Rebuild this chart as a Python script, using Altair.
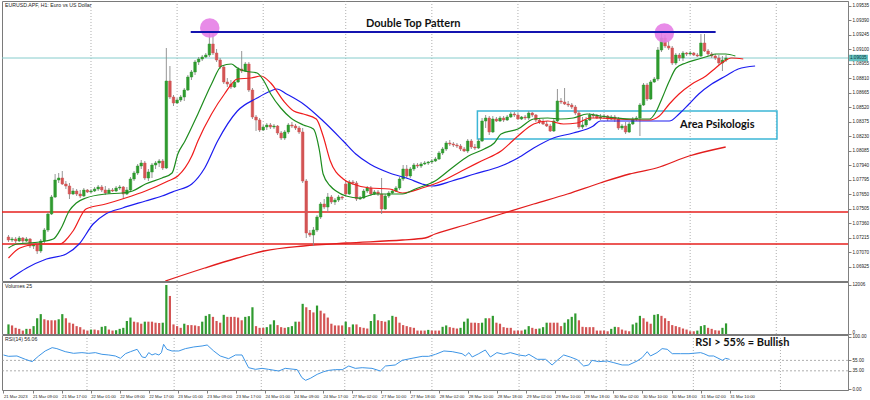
import altair as alt
import pandas as pd

# ---------------- data ----------------
opens = [1.0722,1.0719,1.0720,1.0718,1.0721,1.0718,1.0720,1.0713,1.0714,1.0708,
1.0718,1.0729,1.0745,1.0762,1.0779,1.0781,1.0775,1.0773,1.0765,1.0768,
1.0765,1.0763,1.0769,1.0767,1.0768,1.0770,1.0772,1.0769,1.0766,1.0769,
1.0768,1.0771,1.0772,1.0765,1.0769,1.0780,1.0786,1.0793,1.0796,1.0781,
1.0787,1.0794,1.0796,1.0798,1.0791,1.0878,1.0862,1.0856,1.0859,1.0862,
1.0869,1.0882,1.0887,1.0897,1.0900,1.0902,1.0904,1.0915,1.0906,1.0899,
1.0892,1.0877,1.0875,1.0872,1.0877,1.0890,1.0888,1.0895,1.0869,1.0842,
1.0839,1.0829,1.0832,1.0834,1.0832,1.0833,1.0826,1.0821,1.0827,1.0834,
1.0833,1.0831,1.0827,1.0778,1.0726,1.0724,1.0729,1.0742,1.0755,1.0752,
1.0762,1.0757,1.0759,1.0762,1.0775,1.0765,1.0777,1.0776,1.0760,1.0761,
1.0768,1.0771,1.0765,1.0767,1.0765,1.0750,1.0763,1.0766,1.0768,1.0771,
1.0780,1.0790,1.0783,1.0790,1.0794,1.0793,1.0795,1.0796,1.0797,1.0798,
1.0800,1.0806,1.0810,1.0816,1.0815,1.0814,1.0813,1.0810,1.0808,1.0818,
1.0812,1.0811,1.0818,1.0838,1.0841,1.0827,1.0840,1.0838,1.0841,1.0839,
1.0842,1.0845,1.0844,1.0840,1.0842,1.0841,1.0846,1.0844,1.0839,1.0837,
1.0835,1.0833,1.0828,1.0838,1.0858,1.0857,1.0855,1.0854,1.0852,1.0846,
1.0832,1.0834,1.0839,1.0844,1.0843,1.0841,1.0842,1.0843,1.0840,1.0842,
1.0840,1.0831,1.0833,1.0827,1.0835,1.0840,1.0841,1.0854,1.0874,1.0860,
1.0877,1.0880,1.0909,1.0921,1.0913,1.0911,1.0896,1.0904,1.0901,1.0906,
1.0905,1.0906,1.0904,1.0903,1.0916,1.0908,1.0905,1.0903,1.0901,1.0896,
1.0899]
closes = [1.0719,1.0720,1.0718,1.0721,1.0718,1.0720,1.0713,1.0714,1.0708,1.0718,
1.0729,1.0745,1.0762,1.0779,1.0781,1.0775,1.0773,1.0765,1.0768,1.0765,
1.0763,1.0769,1.0767,1.0768,1.0770,1.0772,1.0769,1.0766,1.0769,1.0768,
1.0771,1.0772,1.0765,1.0769,1.0780,1.0786,1.0793,1.0796,1.0781,1.0787,
1.0794,1.0796,1.0798,1.0791,1.0878,1.0862,1.0856,1.0859,1.0862,1.0869,
1.0882,1.0887,1.0897,1.0900,1.0902,1.0904,1.0915,1.0906,1.0899,1.0892,
1.0877,1.0875,1.0872,1.0877,1.0890,1.0888,1.0895,1.0869,1.0842,1.0839,
1.0829,1.0832,1.0834,1.0832,1.0833,1.0826,1.0821,1.0827,1.0834,1.0833,
1.0831,1.0827,1.0778,1.0726,1.0724,1.0729,1.0742,1.0755,1.0752,1.0762,
1.0757,1.0759,1.0762,1.0761,1.0765,1.0777,1.0776,1.0760,1.0761,1.0768,
1.0771,1.0765,1.0767,1.0765,1.0750,1.0763,1.0766,1.0768,1.0771,1.0780,
1.0790,1.0783,1.0790,1.0794,1.0793,1.0795,1.0796,1.0797,1.0798,1.0800,
1.0806,1.0810,1.0816,1.0815,1.0814,1.0813,1.0810,1.0808,1.0818,1.0812,
1.0811,1.0818,1.0838,1.0841,1.0827,1.0840,1.0838,1.0841,1.0839,1.0842,
1.0845,1.0844,1.0840,1.0842,1.0841,1.0846,1.0844,1.0839,1.0837,1.0835,
1.0833,1.0828,1.0838,1.0858,1.0857,1.0855,1.0854,1.0852,1.0846,1.0832,
1.0834,1.0839,1.0844,1.0843,1.0841,1.0842,1.0843,1.0840,1.0842,1.0840,
1.0831,1.0833,1.0827,1.0835,1.0840,1.0841,1.0854,1.0874,1.0860,1.0877,
1.0880,1.0909,1.0921,1.0913,1.0911,1.0896,1.0904,1.0901,1.0906,1.0905,
1.0906,1.0904,1.0903,1.0916,1.0908,1.0905,1.0903,1.0901,1.0896,1.0899,
1.0901]
highs = [1.0724,1.0722,1.0722,1.0723,1.0722,1.0722,1.0721,1.0717,1.0716,1.0720,
1.0731,1.0747,1.0764,1.0785,1.0786,1.0788,1.0778,1.0776,1.0771,1.0770,
1.0769,1.0771,1.0770,1.0770,1.0772,1.0774,1.0774,1.0773,1.0771,1.0771,
1.0773,1.0774,1.0773,1.0772,1.0782,1.0788,1.0795,1.0799,1.0798,1.0790,
1.0796,1.0798,1.0800,1.0800,1.0911,1.0893,1.0864,1.0861,1.0864,1.0871,
1.0884,1.0889,1.0899,1.0902,1.0904,1.0906,1.0928,1.0928,1.0910,1.0901,
1.0894,1.0881,1.0879,1.0879,1.0892,1.0908,1.0897,1.0897,1.0871,1.0844,
1.0841,1.0834,1.0836,1.0836,1.0835,1.0834,1.0828,1.0829,1.0836,1.0837,
1.0835,1.0833,1.0831,1.0780,1.0729,1.0732,1.0744,1.0757,1.0760,1.0766,
1.0764,1.0761,1.0764,1.0763,1.0778,1.0779,1.0779,1.0778,1.0763,1.0770,
1.0773,1.0773,1.0769,1.0769,1.0781,1.0765,1.0768,1.0770,1.0773,1.0782,
1.0794,1.0794,1.0792,1.0796,1.0796,1.0797,1.0798,1.0798,1.0800,1.0802,
1.0808,1.0812,1.0818,1.0819,1.0817,1.0816,1.0815,1.0812,1.0820,1.0820,
1.0815,1.0820,1.0841,1.0844,1.0843,1.0843,1.0842,1.0843,1.0843,1.0844,
1.0847,1.0847,1.0846,1.0843,1.0844,1.0848,1.0847,1.0845,1.0841,1.0840,
1.0838,1.0835,1.0840,1.0870,1.0861,1.0871,1.0858,1.0856,1.0854,1.0848,
1.0842,1.0842,1.0846,1.0846,1.0845,1.0845,1.0845,1.0844,1.0844,1.0844,
1.0842,1.0835,1.0837,1.0837,1.0842,1.0843,1.0856,1.0876,1.0876,1.0879,
1.0882,1.0912,1.0927,1.0924,1.0918,1.0913,1.0906,1.0906,1.0908,1.0907,
1.0908,1.0907,1.0906,1.0925,1.0925,1.0910,1.0907,1.0905,1.0904,1.0903,
1.0904]
lows = [1.0717,1.0717,1.0716,1.0717,1.0716,1.0717,1.0711,1.0710,1.0705,1.0706,
1.0716,1.0727,1.0744,1.0761,1.0776,1.0774,1.0770,1.0760,1.0764,1.0763,
1.0761,1.0762,1.0766,1.0766,1.0767,1.0768,1.0767,1.0764,1.0765,1.0767,
1.0767,1.0769,1.0760,1.0764,1.0767,1.0778,1.0784,1.0790,1.0779,1.0778,
1.0781,1.0790,1.0792,1.0789,1.0790,1.0860,1.0853,1.0855,1.0857,1.0858,
1.0868,1.0879,1.0884,1.0894,1.0898,1.0901,1.0902,1.0904,1.0897,1.0890,
1.0875,1.0872,1.0870,1.0871,1.0876,1.0886,1.0887,1.0867,1.0840,1.0828,
1.0827,1.0828,1.0829,1.0830,1.0830,1.0824,1.0819,1.0819,1.0825,1.0831,
1.0829,1.0825,1.0776,1.0721,1.0722,1.0713,1.0727,1.0740,1.0750,1.0747,
1.0755,1.0754,1.0757,1.0759,1.0763,1.0764,1.0774,1.0758,1.0759,1.0760,
1.0766,1.0763,1.0764,1.0763,1.0745,1.0749,1.0761,1.0765,1.0767,1.0769,
1.0778,1.0781,1.0781,1.0788,1.0791,1.0791,1.0794,1.0794,1.0795,1.0797,
1.0799,1.0804,1.0808,1.0813,1.0812,1.0811,1.0808,1.0807,1.0806,1.0810,
1.0809,1.0810,1.0817,1.0831,1.0824,1.0826,1.0837,1.0837,1.0837,1.0838,
1.0841,1.0842,1.0839,1.0839,1.0839,1.0839,1.0842,1.0837,1.0835,1.0834,
1.0832,1.0827,1.0827,1.0837,1.0855,1.0854,1.0852,1.0850,1.0844,1.0830,
1.0830,1.0832,1.0838,1.0841,1.0840,1.0839,1.0840,1.0838,1.0839,1.0837,
1.0829,1.0829,1.0825,1.0826,1.0834,1.0838,1.0823,1.0853,1.0858,1.0859,
1.0876,1.0878,1.0907,1.0911,1.0909,1.0894,1.0894,1.0898,1.0898,1.0903,
1.0904,1.0903,1.0902,1.0902,1.0907,1.0903,1.0901,1.0899,1.0894,1.0888,
1.0897]
volumes = [2350,2100,1510,1260,840,1260,1260,1930,3860,4870,
3610,3360,3360,3360,3610,4870,3860,2770,2520,1930,
1680,1090,840,1090,1090,920,1760,1930,1090,840,
920,1260,1510,3190,4030,3020,2860,2520,3020,3020,
3020,2770,2690,2770,12006,9320,2350,1930,1510,2520,
2180,2180,2100,1930,3020,4450,4870,4200,3190,2770,
4700,4200,4200,4200,4030,3360,4200,4370,6550,1930,
1510,1510,1680,2350,3360,2180,1680,1510,1680,1930,
3020,3020,7390,6550,5880,5290,6970,5710,5040,4030,
2520,2100,2100,2100,3020,1680,2350,2350,1680,1510,
1340,3190,4870,3360,3190,3020,3360,4450,4200,2770,
2180,1930,1680,1510,840,840,840,1010,840,840,
840,1760,2100,1680,1510,1340,1510,3020,3780,2770,
2770,2690,2770,3860,3860,4450,2770,2520,1680,1510,
1510,840,840,840,1090,1930,1510,1260,1340,1680,
2770,2770,2770,2770,1930,2770,3610,4200,5040,3360,
1760,1680,1680,1680,840,840,840,670,1260,1760,
1680,1090,840,670,2350,2770,4450,3860,3020,2520,
4700,4870,4450,3860,3190,2180,1930,1680,1340,1090,
670,670,840,1930,2180,1510,1260,920,840,1510,
2600]

# Alligator lines and long moving average (bar position, price)
lips_bars = [0,2.3,8.7,12.5,14.7,16.9,18.9,21.6,27.1,31.8,34.6,38.2,42.8,45.6,47.2,
49.2,52.8,56.6,59.4,62.1,63.8,65.7,69.3,71.2,73.1,75.9,78.7,82.2,85.0,86.7,
87.7,89.7,91.3,94.1,97.9,102.3,106.2,109.8,113.4,118.9,123.6,128.2,132.6,135.4,137.3,
142.0,146.4,150.3,153.9,157.4,161.3,164.9,169.6,174.0,178.7,180.6,182.2,184.2,186.1,188.8,
192.4,195.2,197.1,199.9,202.6]
lips_prices = [1.0711,1.0715,1.0717,1.0720,1.0731,1.0748,1.0756,1.0761,1.0765,1.0766,
1.0768,1.0775,1.0781,1.0786,1.0805,1.0818,1.0845,1.0875,1.0893,1.0895,
1.0891,1.0888,1.0886,1.0878,1.0865,1.0851,1.0841,1.0834,1.0830,1.0808,
1.0785,1.0773,1.0768,1.0763,1.0761,1.0765,1.0765,1.0765,1.0770,1.0778,
1.0791,1.0803,1.0810,1.0816,1.0825,1.0830,1.0840,1.0841,1.0840,1.0841,
1.0845,1.0843,1.0841,1.0840,1.0840,1.0848,1.0861,1.0878,1.0891,1.0896,
1.0900,1.0903,1.0905,1.0905,1.0903]
teeth_bars = [0,3.2,8.7,14.2,18.0,21.6,27.1,32.6,38.2,44.5,47.2,51.1,52.8,56.6,60.2,
63.8,67.6,70.4,73.1,76.7,79.5,82.2,85.8,87.7,89.7,93.3,96.0,100.7,106.2,109.8,
115.3,120.8,126.3,131.8,137.3,142.0,146.4,150.3,154.7,158.5,162.1,164.9,169.6,178.7,181.4,
184.2,186.9,190.5,194.4,197.1,198.8,201.5,204.8]
teeth_prices = [1.0701,1.0711,1.0715,1.0715,1.0728,1.0750,1.0755,1.0761,1.0768,1.0778,
1.0783,1.0803,1.0818,1.0845,1.0865,1.0880,1.0881,1.0883,1.0876,1.0858,
1.0848,1.0845,1.0840,1.0823,1.0798,1.0780,1.0775,1.0771,1.0770,1.0766,
1.0771,1.0778,1.0788,1.0798,1.0808,1.0823,1.0835,1.0838,1.0835,1.0836,
1.0841,1.0841,1.0840,1.0839,1.0843,1.0855,1.0865,1.0875,1.0883,1.0891,
1.0896,1.0901,1.0900]
jaw_bars = [0.4,5.1,10.6,16.1,19.7,23.6,27.1,31.8,38.2,42.8,46.4,51.1,54.7,58.3,63.8,
69.3,73.1,74.8,77.5,82.2,87.7,93.3,96.8,100.7,106.2,111.7,115.3,118.0,123.6,129.9,
137.3,142.0,146.4,151.9,157.4,163.0,164.9,170.4,178.7,184.2,186.9,189.7,192.4,196.0,199.9,
203.4,208.1]
jaw_prices = [1.0680,1.0691,1.0700,1.0705,1.0715,1.0735,1.0745,1.0751,1.0758,1.0763,
1.0768,1.0775,1.0791,1.0818,1.0848,1.0861,1.0868,1.0870,1.0865,1.0855,
1.0838,1.0818,1.0805,1.0795,1.0786,1.0780,1.0775,1.0773,1.0778,1.0785,
1.0793,1.0801,1.0811,1.0821,1.0826,1.0833,1.0838,1.0838,1.0838,1.0838,
1.0845,1.0855,1.0865,1.0875,1.0883,1.0890,1.0893]
ma_bars = [43.7,54.7,63.8,71.2,82.2,94.1,109.8,116.1,118.9,128.2,137.3,146.4,155.8,164.9,173.1,180.6,189.7,199.9]
ma_prices = [1.0678,1.0691,1.0701,1.0708,1.0713,1.0716,1.0719,1.0721,1.0725,1.0735,1.0745,1.0755,1.0765,1.0776,1.0785,1.0791,1.0803,1.0812]

rsi_bars = [0,1.4,3.7,6.0,7.9,9.7,11.5,13.4,14.7,17.0,
19.3,21.6,23.5,25.3,27.1,29.0,30.8,32.2,33.6,35.0,
36.8,38.2,39.1,40.0,40.9,41.8,42.8,43.5,44.1,45.0,
46.4,48.3,50.1,52.4,54.7,56.1,57.9,59.7,62.0,63.9,
65.7,67.5,69.4,71.2,73.0,75.8,77.6,80.9,82.2,83.2,
84.5,86.4,88.2,89.6,91.4,93.3,95.1,96.9,98.8,101.5,
103.8,105.2,107.9,109.8,112.5,115.3,117.1,119.0,121.3,123.6,
126.3,127.2,128.2,129.1,130.9,132.7,134.1,135.9,137.8,139.6,
141.9,143.8,144.7,147.0,149.3,151.1,152.5,154.3,156.1,158.0,
159.8,161.2,162.1,163.9,166.3,168.1,170.4,172.2,174.5,175.9,
177.3,178.2,180.0,181.4,182.8,184.2,186.5,188.8,192.0,192.9,
194.3,195.6,198.0,198.9,200.0]
rsi_values = [65.4,62.8,63.5,57.1,52.6,63.5,73.1,79.5,77.6,71.8,
68.6,69.9,68.6,69.9,66.7,65.4,63.5,59.0,67.9,71.8,
76.3,61.5,60.3,69.9,65.4,67.9,65.4,69.9,85.9,76.3,
73.1,73.1,77.6,80.8,82.7,84.6,73.1,63.5,58.3,65.4,
65.4,41.0,37.8,39.7,37.8,34.6,39.7,37.2,21.8,16.7,
20.5,28.2,33.3,35.9,37.2,37.2,44.2,39.7,41.0,39.7,
34.6,44.2,46.2,55.1,59.0,62.8,62.8,66.7,73.1,71.8,
67.9,63.5,69.9,61.5,67.9,75.0,61.5,69.9,66.7,69.9,
65.4,63.5,66.7,57.1,57.1,46.2,55.1,65.4,61.5,56.4,
44.2,46.2,55.1,52.6,53.8,50.6,46.2,46.2,53.8,60.3,
71.8,63.5,69.9,77.6,76.3,67.9,67.9,67.9,69.9,67.9,
63.5,63.5,55.1,59.0,57.0]

time_labels = ['21 Mar 2023','21 Mar 09:00','21 Mar 17:00','22 Mar 01:00','22 Mar 09:00',
'22 Mar 17:00','23 Mar 01:00','23 Mar 09:00','23 Mar 17:00','24 Mar 01:00','24 Mar 09:00',
'24 Mar 17:00','27 Mar 02:00','27 Mar 10:00','27 Mar 18:00','28 Mar 02:00','28 Mar 10:00',
'28 Mar 18:00','29 Mar 02:00','29 Mar 10:00','29 Mar 18:00','30 Mar 02:00','30 Mar 10:00',
'30 Mar 18:00','31 Mar 02:00','31 Mar 10:00']
price_ticks = [1.09535,1.09390,1.09245,1.09100,1.08955,1.08810,1.08665,1.08520,1.08375,1.08230,
1.08085,1.07940,1.07795,1.07650,1.07505,1.07360,1.07215,1.07070,1.06925]
day_bars = [23, 47, 71, 94, 118, 142, 166, 190, 214]
support_levels = [1.0747, 1.0715]
current_price = 1.0901
current_label = "1.09035"
top_start, top_end, top_price = 50.8, 197.1, 1.0927
peak_bars = [56.1, 182.8]
peak_prices = [1.0931, 1.0926]
zone_start, zone_end, zone_low, zone_high = 130.7, 214.2, 1.0820, 1.0848
rsi_levels = [55, 35]
rsi_ticks = [0, 35, 55, 100]
vol_ticks = [0, 12006]
chart_title = "EURUSD.APF, H1:  Euro vs US Dollar"
vol_title = "Volumes 25"
rsi_title = "RSI(14) 56.06"

# ---------------- frames ----------------
n = len(closes)
candles = pd.DataFrame({"bar": list(range(n)), "open": opens, "high": highs,
                        "low": lows, "close": closes})
candles["dir"] = ["up" if c >= o else "down" for o, c in zip(opens, closes)]
vol = pd.DataFrame({"bar": list(range(n)), "vol": volumes})
vol["dir"] = ["up" if i == 0 or v > volumes[i - 1] else "down" for i, v in enumerate(volumes)]

W = 846
LAB_FONT = "Liberation Sans, sans-serif"
ANN_FONT = "Lato"
X = alt.Scale(domain=[-0.41, 232.6], nice=False, zero=False)
PY = alt.Scale(domain=[1.0678, 1.0958], nice=False, zero=False)
VY = alt.Scale(domain=[0, 12740], nice=False, zero=False)
RY = alt.Scale(domain=[-1.9, 103.8], nice=False, zero=False)

def yaxis(values, fmt, baseline="middle"):
    return alt.Axis(orient="right", values=values, format=fmt, labelFontSize=4.6,
                    labelFont=LAB_FONT, labelColor="#222222", labelPadding=1,
                    tickSize=3, tickColor="#808080", domainColor="#808080",
                    labelBaseline=baseline,
                    labelOverlap=False, labelFlush=False, grid=False, title=None)

PAX = yaxis(price_ticks, ".5f")
VAX = yaxis(vol_ticks, "d", {"condition": {"test": "datum.value == 0", "value": "bottom"}, "value": "middle"})
RAX = yaxis(rsi_ticks, ".2f")
XAX = alt.Axis(values=list(range(0, 201, 8)),
               labelExpr="[" + ",".join("'" + t + "'" for t in time_labels) + "][round(datum.value / 8)]",
               labelAlign="left", labelFontSize=4.2, labelFont=LAB_FONT, labelColor="#222222",
               labelPadding=1, tickSize=3, tickColor="#808080", domain=False,
               labelOverlap=False, labelFlush=False, grid=False, title=None)

def xenc(field="bar", axis=None):
    return alt.X(f"{field}:Q", scale=X, axis=axis)

def py(field):
    return alt.Y(f"{field}:Q", scale=PY, axis=PAX)

def grid_layer(axis=None):
    return alt.Chart(pd.DataFrame({"bar": day_bars})).mark_rule(
        color="#9a9a9a", strokeDash=[1, 2], strokeWidth=0.8).encode(x=xenc(axis=axis))

def line_layer(bars, prices, color, width=1.2):
    df = pd.DataFrame({"bar": bars, "price": prices})
    return alt.Chart(df).mark_line(color=color, strokeWidth=width, clip=True,
                                   interpolate="monotone").encode(x=xenc(), y=py("price"))

cscale = alt.Scale(domain=["up", "down"], range=["#2f9a2f", "#d35454"])

wicks = alt.Chart(candles).mark_rule(color="#8a8a8a", strokeWidth=0.9).encode(
    x=xenc(), y=py("low"), y2="high:Q")
bodies = alt.Chart(candles).mark_bar(size=2.6, strokeWidth=0.5).encode(
    x=xenc(), y=py("open"), y2="close:Q",
    color=alt.Color("dir:N", scale=cscale, legend=None),
    stroke=alt.Stroke("dir:N", scale=cscale, legend=None))

supports = alt.Chart(pd.DataFrame({"price": support_levels})).mark_rule(
    color="#e6201e", strokeWidth=1.3).encode(y=py("price"))
cur_line = alt.Chart(pd.DataFrame({"price": [current_price]})).mark_rule(
    color="#86cccc", strokeWidth=1).encode(y=py("price"))
zone = alt.Chart(pd.DataFrame({"s": [zone_start], "e": [zone_end], "lo": [zone_low], "hi": [zone_high]})).mark_rect(
    fillOpacity=0, stroke="#3cb6d6", strokeWidth=1.5).encode(
    x=xenc("s"), x2="e:Q", y=py("lo"), y2="hi:Q")
circles = alt.Chart(pd.DataFrame({"bar": peak_bars, "price": peak_prices})).mark_circle(
    size=380, color="#e57ee5", opacity=0.9).encode(x=xenc(), y=py("price"))
top = alt.Chart(pd.DataFrame({"s": [top_start], "e": [top_end], "p": [top_price]})).mark_rule(
    color="#1414b0", strokeWidth=2).encode(x=xenc("s"), x2="e:Q", y=py("p"))

ann_dt = alt.Chart(pd.DataFrame({"bar": [112.8], "price": [1.0935], "t": ["Double Top Pattern"]})).mark_text(
    font=ANN_FONT, fontWeight="bold", fontSize=11, color="#111111", align="center",
    baseline="middle").encode(x=xenc(), y=py("price"), text="t:N")
ann_ap = alt.Chart(pd.DataFrame({"bar": [187.2], "price": [1.0834], "t": ["Area Psikologis"]})).mark_text(
    font=ANN_FONT, fontWeight="bold", fontSize=11, color="#111111", align="left",
    baseline="middle").encode(x=xenc(), y=py("price"), text="t:N")

title_txt = alt.Chart(pd.DataFrame({"t": [chart_title]})).mark_text(
    font=LAB_FONT, fontSize=5.2, color="#222222", align="left", baseline="top").encode(
    x=alt.value(3), y=alt.value(2), text="t:N")

cur_box = alt.Chart(pd.DataFrame({"price": [current_price]})).mark_tick(
    orient="horizontal", thickness=6.5, size=19, color="#66c2c2", opacity=1).encode(
    x=alt.value(856.5), y=py("price"))
cur_txt = alt.Chart(pd.DataFrame({"price": [current_price], "t": [current_label]})).mark_text(
    font=LAB_FONT, fontSize=4.6, color="#073838", align="left", baseline="middle").encode(
    x=alt.value(848), y=py("price"), text="t:N")

price = alt.layer(
    grid_layer(), supports, cur_line, line_layer(ma_bars, ma_prices, "#e21d1d", 1.3),
    zone, wicks, bodies,
    line_layer(jaw_bars, jaw_prices, "#1c1cf0", 1.2),
    line_layer(teeth_bars, teeth_prices, "#f01c1c", 1.2),
    line_layer(lips_bars, lips_prices, "#1e8c1e", 1.2),
    circles, top, ann_dt, ann_ap, title_txt, cur_box, cur_txt
).properties(width=W, height=280)

vscale = alt.Scale(domain=["up", "down"], range=["#1d7f1d", "#ee2a2a"])
vol_bars = alt.Chart(vol).mark_bar(size=2.2).encode(
    x=xenc(), y=alt.Y("vol:Q", scale=VY, axis=VAX),
    color=alt.Color("dir:N", scale=vscale, legend=None))
vol_txt = alt.Chart(pd.DataFrame({"t": [vol_title]})).mark_text(
    font=LAB_FONT, fontSize=5.2, color="#222222", align="left", baseline="top").encode(
    x=alt.value(3), y=alt.value(2), text="t:N")
volume = alt.layer(grid_layer(), vol_bars, vol_txt).properties(width=W, height=52)

def ry(field):
    return alt.Y(f"{field}:Q", scale=RY, axis=RAX)

rsi_df = pd.DataFrame({"bar": rsi_bars, "rsi": rsi_values})
rsi_line = alt.Chart(rsi_df).mark_line(color="#3d95e6", strokeWidth=1).encode(
    x=xenc(axis=XAX), y=ry("rsi"))
rsi_lv = alt.Chart(pd.DataFrame({"rsi": rsi_levels})).mark_rule(
    color="#9a9a9a", strokeDash=[2, 2], strokeWidth=0.8).encode(y=ry("rsi"))
rsi_txt = alt.Chart(pd.DataFrame({"t": [rsi_title]})).mark_text(
    font=LAB_FONT, fontSize=5.2, color="#222222", align="left", baseline="top").encode(
    x=alt.value(3), y=alt.value(2), text="t:N")
rsi_ann = alt.Chart(pd.DataFrame({"bar": [190.5], "rsi": [88.5], "t": ["RSI > 55% = Bullish"]})).mark_text(
    font=ANN_FONT, fontWeight="bold", fontSize=11, color="#111111", align="left", baseline="middle").encode(
    x=xenc(axis=XAX), y=ry("rsi"), text="t:N")
rsi = alt.layer(grid_layer(XAX), rsi_lv, rsi_line, rsi_txt, rsi_ann).properties(width=W, height=55)

chart = alt.vconcat(price, volume, rsi, spacing=1, bounds="flush").properties(
    padding={"left": 0, "top": 0, "right": 0, "bottom": 0}
).configure(background="white").configure_view(stroke="#7a7a7a", strokeWidth=1)

chart.save("out.html", embed_options={"renderer": "svg", "actions": False})
